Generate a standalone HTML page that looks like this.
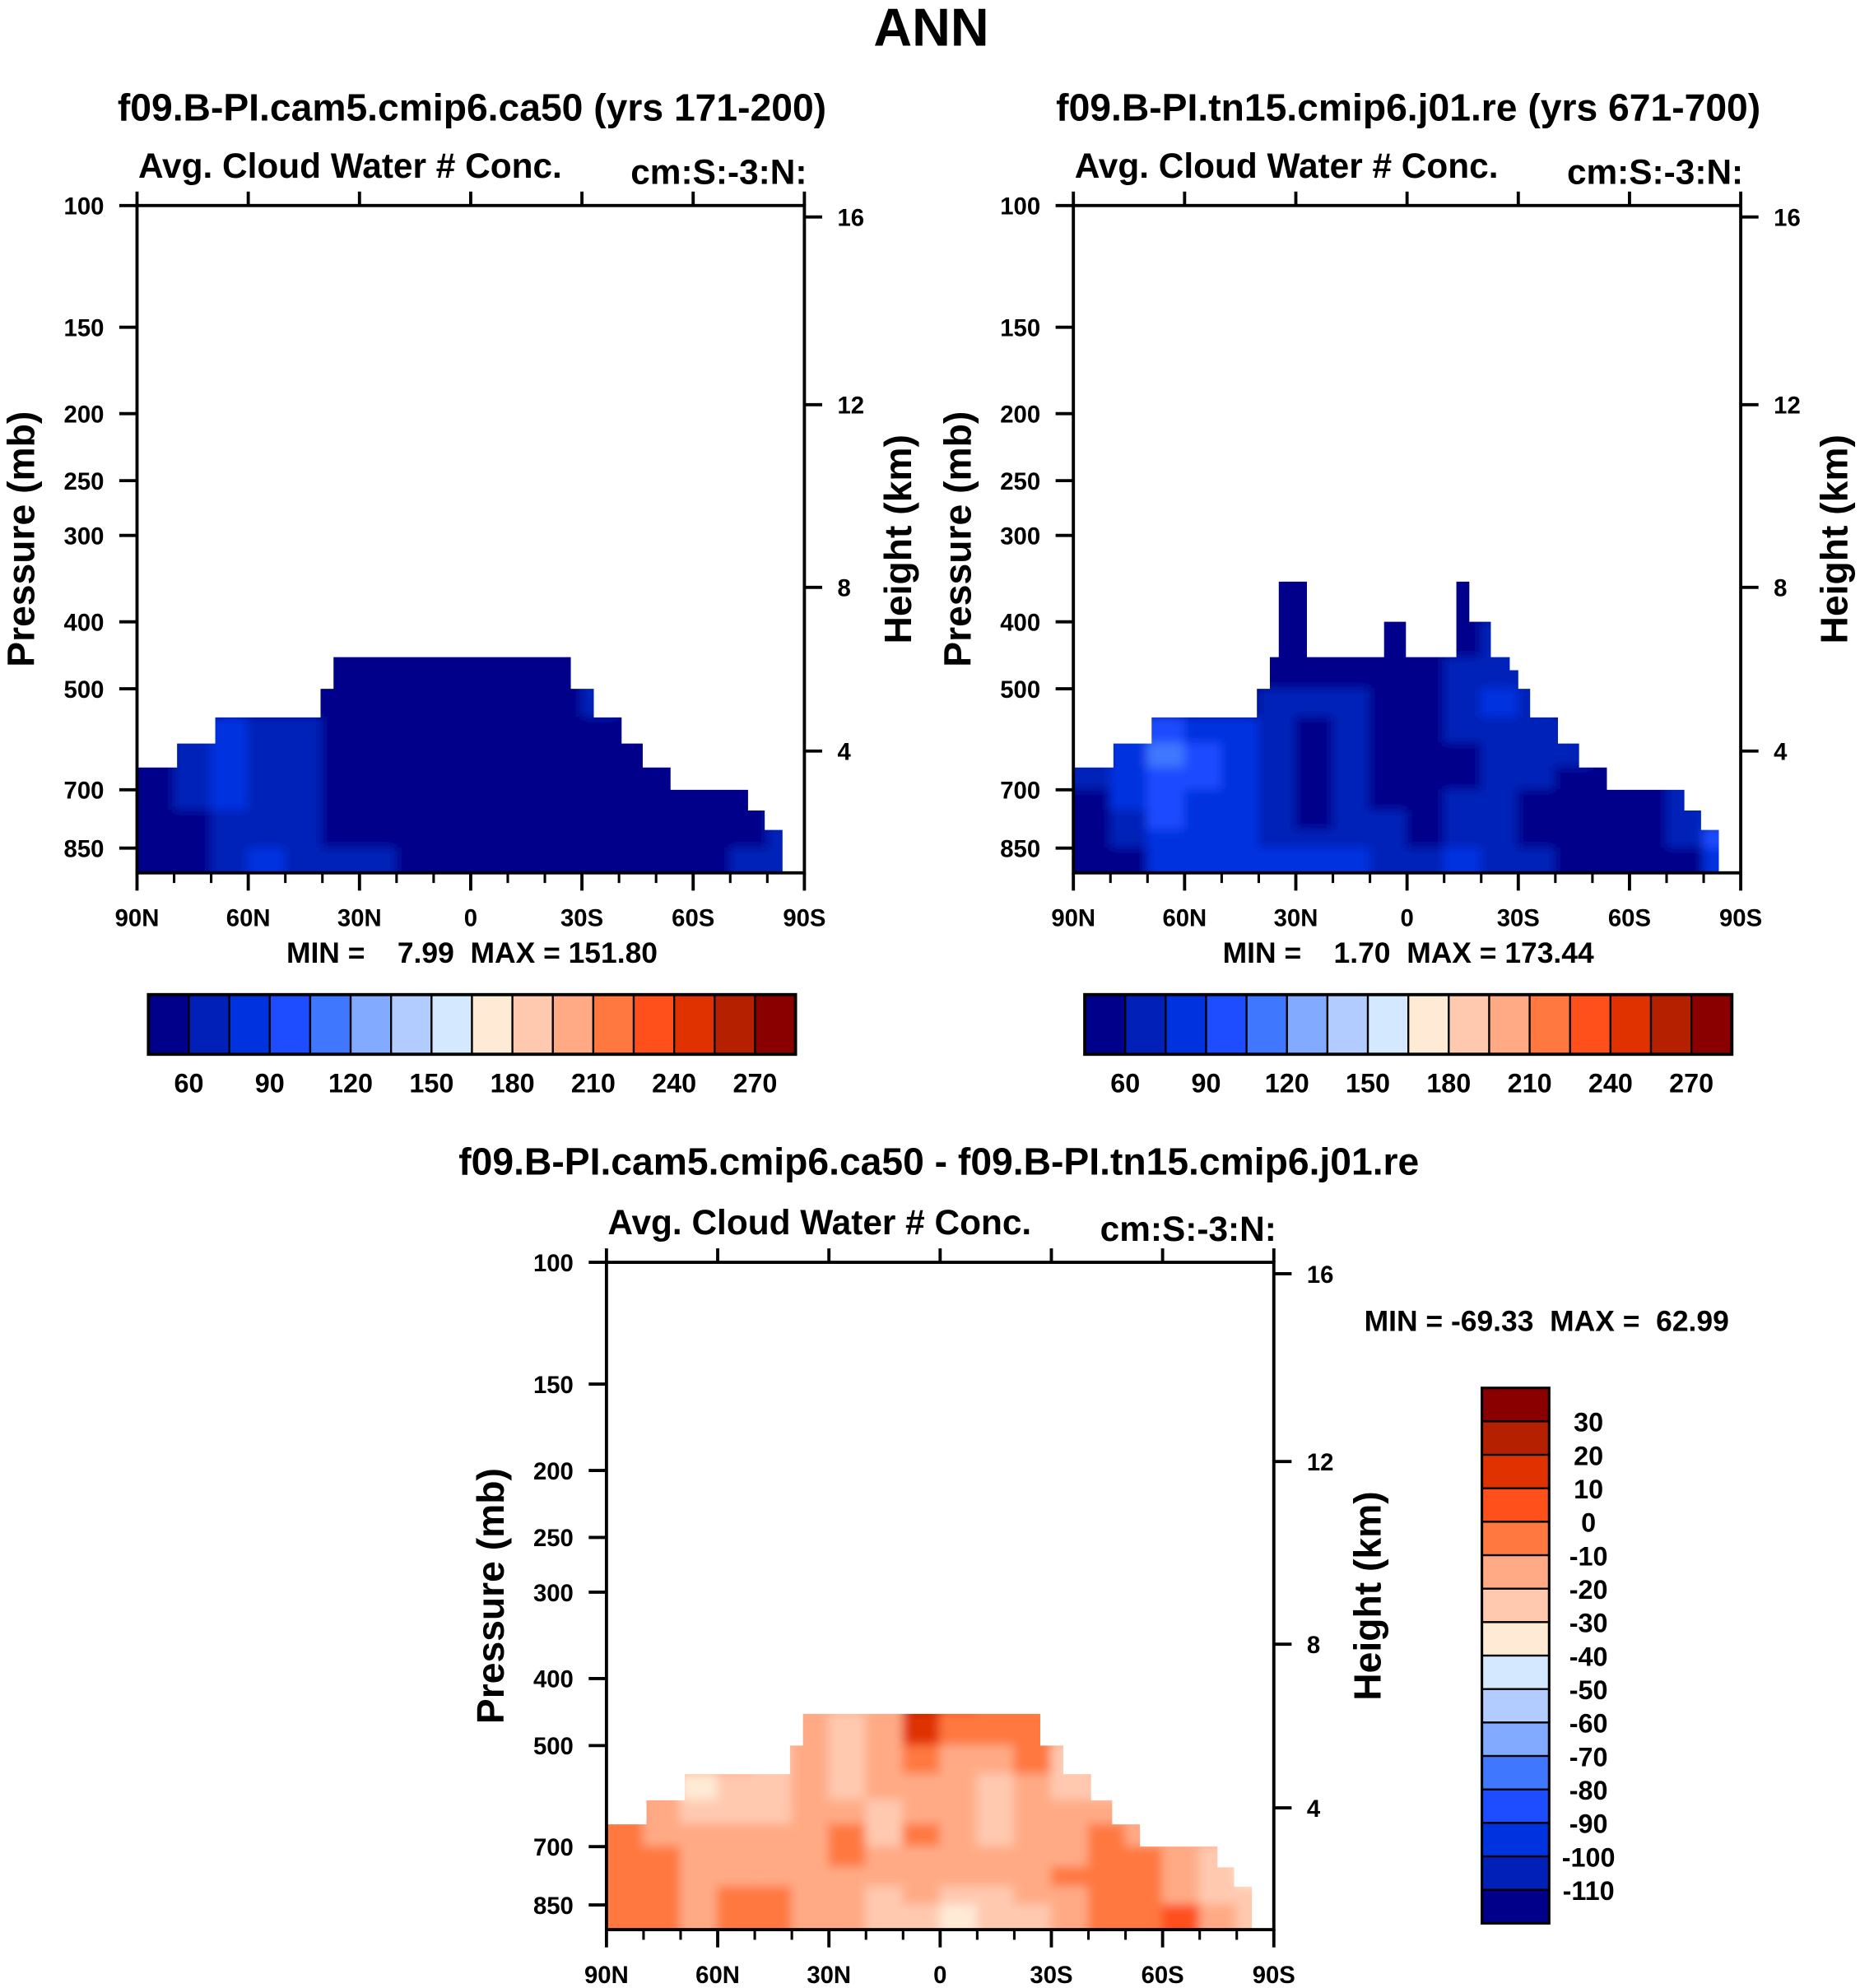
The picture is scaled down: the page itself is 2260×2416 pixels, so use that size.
<!DOCTYPE html>
<html><head><meta charset="utf-8">
<style>
html,body{margin:0;padding:0;background:#fff;}
svg{display:block;}
text{font-family:"Liberation Sans",sans-serif;font-weight:bold;fill:#000;white-space:pre;}
</style></head>
<body>
<svg id="chart" xmlns="http://www.w3.org/2000/svg" width="2260" height="2416" viewBox="0 0 1466 1567" preserveAspectRatio="none">
<defs>
<filter id="soft" filterUnits="userSpaceOnUse" x="0" y="0" width="1466" height="1567"><feGaussianBlur stdDeviation="4"/></filter>
</defs>
<text x="734" y="36" font-size="42" text-anchor="middle">ANN</text>
</svg>
<script>
// ---------- data ----------
const colors = ["#00008a","#0020b8","#0033e0","#1e4cff","#3f78ff","#82aaff","#b3ccff","#d4e8ff","#ffead6","#ffc9b0","#ffaa85","#ff7840","#ff501c","#e03200","#b42000","#8a0000"];
const levelsAbs = [60,75,90,105,120,135,150,165,180,195,210,225,240,255,270];
const levelsDiff = [-110,-100,-90,-80,-70,-60,-50,-40,-30,-20,-10,0,10,20,30];
const absTickLabels = ["60","90","120","150","180","210","240","270"];
const diffTickLabels = ["-110","-100","-90","-80","-70","-60","-50","-40","-30","-20","-10","0","10","20","30"];
const pressureTicks = [100,150,200,250,300,400,500,700,850];
const heightTicks = [16,12,8,4];
const heightTickY = [9,157,301,430];
const latMajor = [90,60,30,0,-30,-60,-90];
const latMajorLabels = ["90N","60N","30N","0","30S","60S","90S"];
const latMinor = [80,70,50,40,20,10,-10,-20,-40,-50,-70,-80];
const colLatEdges = [95,80,70,60,50,40,30,20,10,0,-10,-20,-30,-40,-50,-60,-70,-80,-95];
const rowPEdges = [300,400,450,500,550,600,650,700,750,800,850,923];
const prof1Lat = [90,79.2,68.9,40.5,37,-27,-33.2,-40.7,-46.4,-53.9,-74.8,-79.3,-84.1];
const prof1Top = [650,600,550,500,450,500,550,600,650,700,750,800];
const prof2Lat = [90,79.2,68.9,40.5,37,34.6,27,6.2,0.3,-13.3,-16.8,-22.6,-27.7,-30,-33.2,-40.7,-46.4,-53.9,-74.8,-79.3,-84.1];
const prof2Top = [650,600,550,500,450,350,450,400,450,350,400,450,470,500,550,600,650,700,750,800];
const vals1 = [
[50,50,50,50,50,50,50,50,50,50,50,50,50,50,50,50,50,50],
[50,50,50,50,50,50,50,50,50,50,50,50,62,50,50,50,50,50],
[50,50,50,50,50,50,50,50,50,50,50,50,65,50,50,50,50,50],
[50,50,50,50,50,50,50,50,50,50,50,50,64,50,50,50,50,50],
[50,65,80,72,60,50,50,50,50,50,50,50,50,50,50,50,50,50],
[52,66,86,72,62,50,50,50,50,50,50,50,50,50,50,50,50,50],
[56,66,82,70,62,50,50,50,50,50,50,50,50,50,50,50,50,50],
[50,62,78,68,62,50,50,50,50,50,50,50,50,50,50,50,50,62],
[50,58,72,66,62,50,50,50,50,50,50,50,50,50,50,50,50,66],
[50,52,68,72,63,58,55,50,50,50,50,50,50,50,50,50,58,72],
[50,50,66,80,70,64,62,55,50,50,50,50,50,50,50,50,62,74]];
const vals2 = [
[50,50,50,50,50,50,50,50,50,50,50,50,50,50,50,50,50,50],
[50,50,50,50,50,50,50,50,50,50,50,62,50,50,50,50,50,50],
[50,50,50,50,50,50,50,50,50,50,60,70,68,50,50,50,50,50],
[50,50,50,50,50,72,60,62,50,50,62,75,70,55,50,50,50,50],
[50,78,96,86,75,64,56,60,50,50,64,72,68,62,50,50,50,50],
[62,84,108,92,78,66,54,64,50,50,58,64,64,60,50,50,50,50],
[64,84,104,90,78,66,50,62,52,50,56,60,62,50,50,50,62,70],
[50,78,96,86,76,64,50,62,56,50,60,60,56,50,50,50,64,76],
[50,70,90,84,76,66,58,66,60,52,66,62,52,50,50,50,68,84],
[50,60,84,84,78,70,64,70,64,52,70,66,56,50,50,50,64,90],
[50,58,82,88,84,80,76,80,72,62,78,70,62,56,50,50,58,80]];
const valsD = [
[-15,-15,-15,-15,-15,-15,-15,-15,15,5,-5,-5,-15,-15,-15,-15,-15,-15],
[-15,-15,-15,-15,-15,-15,-15,-15,25,5,-5,-5,-15,-15,-15,-15,-15,-15],
[-15,-15,-15,-15,-15,-15,-25,-15,12,-5,-5,-5,-15,-15,-15,-15,-15,-15],
[-15,-15,-15,-15,-25,-15,-25,-15,-5,-15,-15,-5,-25,-15,-15,-15,-15,-15],
[-15,-20,-35,-25,-25,-15,-25,-15,-15,-15,-25,-15,-25,-25,-15,-15,-15,-15],
[-10,-15,-30,-25,-25,-15,-15,-25,-15,-15,-25,-15,-15,-15,-15,-15,-15,-15],
[-5,-15,-15,-15,-15,-15,-10,-25,-5,-15,-25,-15,-15,-5,-15,-15,-15,-15],
[-5,-10,-15,-15,-15,-15,-5,-15,-15,-15,-15,-15,-15,-5,-5,-15,-25,-35],
[-5,-5,-15,-15,-15,-15,-15,-15,-15,-15,-20,-15,-5,-5,-5,-15,-25,-35],
[-5,-5,-15,-5,-5,-15,-15,-25,-15,-25,-25,-20,-15,-5,-5,-15,-25,-30],
[-5,-5,-15,-5,-10,-15,-15,-25,-25,-35,-30,-25,-15,-5,-5,0,-15,-25]];
// ---------- helpers ----------
const NS="http://www.w3.org/2000/svg";
const svg=document.getElementById('chart');
function mk(tag,attrs,parent){const e=document.createElementNS(NS,tag);for(const k in attrs)e.setAttribute(k,attrs[k]);(parent||svg).appendChild(e);return e;}
function colorFor(v,levels){let i=0;while(i<levels.length&&v>=levels[i])i++;return colors[i];}
let clipId=0;
function panel(x0,y0,vals,levels,profLat,profTop,name){
  const W=526,H=526;
  const xs=lat=>x0+(90-lat)/180*W;
  const ys=p=>y0+(Math.log10(p)-2)/(Math.log10(923)-2)*H;
  const g=mk('g',{});
  
  
  clipId++;
  const cp=mk('clipPath',{id:'cp'+clipId},svg.querySelector('defs'));
  let d='M'+xs(profLat[0])+','+(y0+H);
  for(let i=0;i<profTop.length;i++){d+=' L'+xs(profLat[i])+','+ys(profTop[i])+' L'+xs(profLat[i+1])+','+ys(profTop[i]);}
  d+=' L'+xs(profLat[profLat.length-1])+','+(y0+H)+' Z';
  mk('path',{d:d},cp);
  const cg=mk('g',{'clip-path':'url(#cp'+clipId+')'},g);
  
  
  const bg=mk('g',{filter:'url(#soft)'},cg);
  for(let r=0;r<vals.length;r++){for(let c=0;c<vals[r].length;c++){
    const xa=xs(colLatEdges[c]),xb=xs(colLatEdges[c+1]);
    const ya=ys(rowPEdges[r]),yb=r===vals.length-1?y0+H+10:ys(rowPEdges[r+1]);
    const rc=mk('rect',{x:xa-0.5,y:ya-0.5,width:xb-xa+1,height:yb-ya+1,fill:colorFor(vals[r][c],levels)},bg);
    
    
  }}
  const fr=mk('rect',{x:x0,y:y0,width:W,height:H,fill:'none',stroke:'#000','stroke-width':2.5},g);
  
  
  pressureTicks.forEach(p=>{
    const y=ys(p);
    mk('line',{x1:x0-14,x2:x0,y1:y,y2:y,stroke:'#000','stroke-width':2.5},g);
    const t=mk('text',{x:x0-26,y:y+7,'font-size':19,'text-anchor':'end'},g);t.textContent=p;
    
    
  });
  heightTicks.forEach((h,i)=>{
    const y=y0+heightTickY[i];
    mk('line',{x1:x0+W,x2:x0+W+14,y1:y,y2:y,stroke:'#000','stroke-width':2.5},g);
    const t=mk('text',{x:x0+W+26,y:y+7,'font-size':19},g);t.textContent=h;
    
    
  });
  latMajor.forEach((l,i)=>{
    const x=xs(l);
    mk('line',{x1:x,x2:x,y1:y0+H,y2:y0+H+14,stroke:'#000','stroke-width':2.5},g);
    mk('line',{x1:x,x2:x,y1:y0,y2:y0-11,stroke:'#000','stroke-width':2.5},g);
    const t=mk('text',{x:x,y:y0+H+42,'font-size':19,'text-anchor':'middle'},g);t.textContent=latMajorLabels[i];
    
    
  });
  latMinor.forEach(l=>{const x=xs(l);mk('line',{x1:x,x2:x,y1:y0+H,y2:y0+H+8,stroke:'#000','stroke-width':2},g);});
  let t=mk('text',{x:x0+1,y:y0-22,'font-size':27.5},g);t.textContent='Avg. Cloud Water # Conc.';
  
  
  t=mk('text',{x:x0+W+2,y:y0-17,'font-size':27.5,'text-anchor':'end'},g);t.textContent='cm:S:-3:N:';
  
  
  t=mk('text',{x:0,y:0,'font-size':30,'text-anchor':'middle',transform:'translate('+(x0-81)+','+(y0+263)+') rotate(-90)'},g);t.textContent='Pressure (mb)';
  
  
  t=mk('text',{x:0,y:0,'font-size':30,'text-anchor':'middle',transform:'translate('+(x0+W+84)+','+(y0+263)+') rotate(-90)'},g);t.textContent='Height (km)';
  
  
}
function hColorbar(x0,y0,name){
  const w=510/16,g=mk('g',{});
  
  
  colors.forEach((c,i)=>{const r=mk('rect',{x:x0+i*w,y:y0,width:w,height:47,fill:c,stroke:'#000','stroke-width':1.5},g);
    
    });
  mk('rect',{x:x0,y:y0,width:510,height:47,fill:'none',stroke:'#000','stroke-width':2.5},g);
  absTickLabels.forEach((s,i)=>{const t=mk('text',{x:x0+w*(1+2*i),y:y0+77,'font-size':21,'text-anchor':'middle'},g);t.textContent=s;
    
    });
}
function title(x,y,s,size,name){const t=mk('text',{x:x,y:y,'font-size':size,'text-anchor':'middle'});t.textContent=s;
  
  }

title(372,95,'f09.B-PI.cam5.cmip6.ca50 (yrs 171-200)',30,'panel1-title');
title(1110,95,'f09.B-PI.tn15.cmip6.j01.re (yrs 671-700)',30,'panel2-title');
panel(108,162,vals1,levelsAbs,prof1Lat,prof1Top,'panel1');
panel(846,162,vals2,levelsAbs,prof2Lat,prof2Top,'panel2');
title(372,759,'MIN =    7.99  MAX = 151.80',23,'panel1-min-max');
title(1110,759,'MIN =    1.70  MAX = 173.44',23,'panel2-min-max');
hColorbar(117,784,'panel1-colorbar');
hColorbar(855,784,'panel2-colorbar');
title(740,926,'f09.B-PI.cam5.cmip6.ca50 - f09.B-PI.tn15.cmip6.j01.re',30,'difference-title');
panel(478,995,valsD,levelsDiff,prof1Lat,prof1Top,'difference');
title(1219,1049,'MIN = -69.33  MAX =  62.99',23,'difference-min-max');
(function(){
  const x0=1168,y0=1094,h=422/16,g=mk('g',{});
  
  
  for(let i=0;i<16;i++){const r=mk('rect',{x:x0,y:y0+i*h,width:53,height:h,fill:colors[15-i],stroke:'#000','stroke-width':1.5},g);
    
    }
  mk('rect',{x:x0,y:y0,width:53,height:422,fill:'none',stroke:'#000','stroke-width':2},g);
  diffTickLabels.forEach((s,i)=>{const y=y0+(15-i)*h;const t=mk('text',{x:1252,y:y+8,'font-size':21,'text-anchor':'middle'},g);t.textContent=s;
    
    });
})();
</script>
</body></html>
